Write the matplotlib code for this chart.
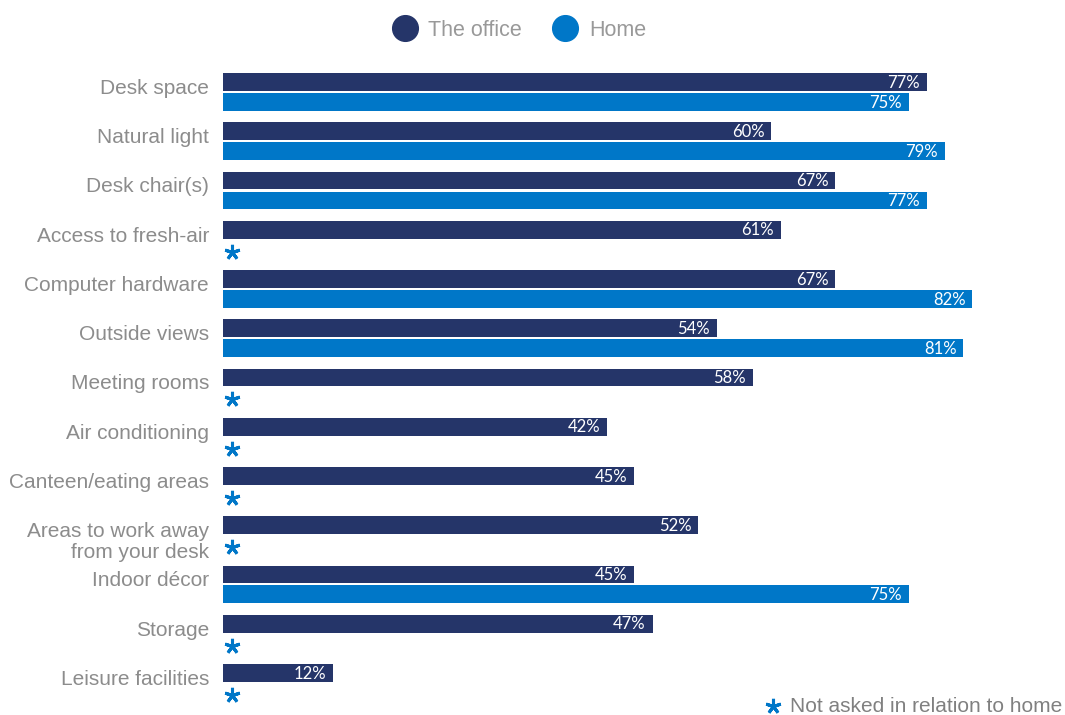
import matplotlib

matplotlib.use('Agg')
import matplotlib.pyplot as plt
from matplotlib.lines import Line2D
import numpy as np

OFFICE_COLOR = '#253569'
HOME_COLOR = '#0077c8'
TEXT_GRAY = '#8c8c8c'

categories = ['Desk space', 'Natural light', 'Desk chair(s)', 'Access to fresh-air',
              'Computer hardware', 'Outside views', 'Meeting rooms', 'Air conditioning',
              'Canteen/eating areas', 'Areas to work away\nfrom your desk', 'Indoor décor',
              'Storage', 'Leisure facilities']
office = [77, 60, 67, 61, 67, 54, 58, 42, 45, 52, 45, 47, 12]
# None = not asked in relation to home
home = [75, 79, 77, None, 82, 81, None, None, None, None, 75, None, None]

plt.rcParams['font.family'] = ['Liberation Sans', 'DejaVu Sans']

fig = plt.figure(figsize=(10.65, 7.15), dpi=100)
ax = fig.add_axes([223 / 1065, 0, 842 / 1065, 1])

y = np.arange(len(categories))
off = 0.203
h = 0.365

ax.barh(y - off, office, height=h, color=OFFICE_COLOR)
for i, v in enumerate(office):
    ax.annotate(f'{v}%', xy=(v, i - off), xytext=(-5, -0.5), textcoords='offset points',
                ha='right', va='center', color='white', fontsize=12, family='Lato')

for i, v in enumerate(home):
    if v is None:
        ax.plot([0.95], [i + off + 0.04], marker=(5, 2, 0), markersize=11,
                markeredgewidth=2.2, color=HOME_COLOR, clip_on=False)
        continue
    ax.barh(i + off, v, height=h, color=HOME_COLOR)
    ax.annotate(f'{v}%', xy=(v, i + off), xytext=(-5, -0.5), textcoords='offset points',
                ha='right', va='center', color='white', fontsize=12, family='Lato')

for i, name in enumerate(categories):
    ax.annotate(name, xy=(0, i - off - h / 2), xytext=(-10, -4.3), textcoords='offset points',
                ha='right', va='top', color=TEXT_GRAY, fontsize=15, multialignment='right',
                linespacing=1.1, annotation_clip=False)

ax.set_xlim(0, 842 / 9.14)
ax.set_ylim(12.65, -1.868)
ax.axis('off')

handles = [Line2D([], [], marker='o', linestyle='none', markersize=18.5, color=OFFICE_COLOR),
           Line2D([], [], marker='o', linestyle='none', markersize=18.5, color=HOME_COLOR)]
fig.legend(handles, ['The office', 'Home'], loc='center', bbox_to_anchor=(519 / 1065, 0.958),
           ncol=2, frameon=False, fontsize=15.5, labelcolor='#999999', handletextpad=0.5,
           columnspacing=1.4, handlelength=1.2)

# footnote
fig.add_artist(Line2D([773 / 1065], [1 - 706 / 715], marker=(5, 2, 0), markersize=11,
                      markeredgewidth=2.2, color=HOME_COLOR, transform=fig.transFigure))
fig.text(1062 / 1065, 1 - 706 / 715, 'Not asked in relation to home', ha='right', va='center',
         color='#808080', fontsize=15)

fig.savefig('out.png', dpi=100)
